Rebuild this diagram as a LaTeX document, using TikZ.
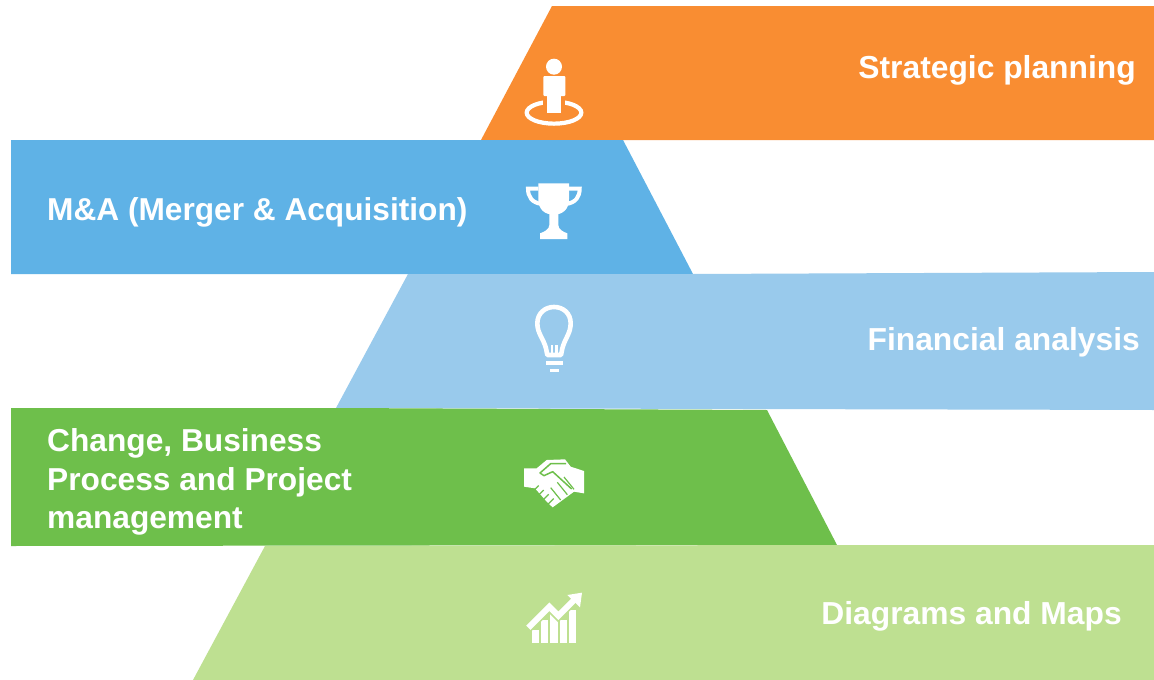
\documentclass[tikz,border=0pt]{standalone}
\usepackage{fontspec}
\setmainfont{Liberation Sans}
\definecolor{cOrange}{HTML}{F98D32}
\definecolor{cBlue}{HTML}{5FB2E6}
\definecolor{cPale}{HTML}{99CAEC}
\definecolor{cGreen}{HTML}{6EBF4B}
\definecolor{cLime}{HTML}{BEE091}
\tikzset{
  lbl/.style={text=white,font=\fontsize{31.7}{38}\selectfont\bfseries,inner sep=0pt,anchor=base west},
  lbr/.style={text=white,font=\fontsize{31.8}{38}\selectfont\bfseries,inner sep=0pt,anchor=base east},
  ico/.style={x=0.33333pt,y=-0.33333pt},
}
\begin{document}
\begin{tikzpicture}[x=1pt,y=-1pt]
\useasboundingbox (0,0) rectangle (1154,680);
\fill[white] (0,0) rectangle (1154,680);
% bands
\fill[cOrange] (552,6) -- (1154,6) -- (1154,140) -- (481,140) -- cycle;
\fill[cBlue] (11,140) -- (623,140) -- (693,274) -- (11,274) -- cycle;
\fill[cPale] (408,274) -- (693,274) -- (1154,272) -- (1154,410) -- (336,408) -- cycle;
\fill[cGreen] (11,408) -- (336,408) -- (767,410) -- (837,545) -- (11,546) -- cycle;
\fill[cLime] (265,546) -- (837,545) -- (1154,545) -- (1154,680) -- (193,680) -- cycle;
% labels
\node[lbr] (t1) at (1136,78) {Strategic planning};
\node[lbl,font=\fontsize{31.65}{38}\selectfont\bfseries] (t2) at (47,220) {M\&A (Merger \& Acquisition)};
\node[lbr] (t3) at (1140,350) {Financial analysis};
\node[lbl] (t4a) at (47,451) {Change, Business};
\node[lbl] (t4b) at (47,490) {Process and Project};
\node[lbl] (t4c) at (47,528) {management};
\node[lbr] (t5) at (1122,624) {Diagrams and Maps};
% person
\begin{scope}[shift={(500,40)},ico]
\draw[white,line width=4.2pt] (162,218) ellipse [x radius=82,y radius=33];
\fill[cOrange] (130,170) rectangle (196,230);
\fill[white] (162,80) circle (24);
\fill[white,rounded corners=1pt] (130,108) rectangle (196,168);
\fill[white] (142,160) rectangle (184,219);
\end{scope}
% trophy
\begin{scope}[shift={(500,170)},ico]
\draw[white,line width=4pt] (115,56) -- (84,56) .. controls (84,80) and (95,98) .. (125,102);
\draw[white,line width=4pt] (207,56) -- (239,56) .. controls (239,80) and (228,98) .. (198,102);
\fill[white] (115,40) -- (207,40) -- (207,88) .. controls (207,118) and (188,134) .. (161,134) .. controls (134,134) and (115,118) .. (115,88) -- cycle;
\fill[white] (148,130) -- (175,130) -- (175,165) .. controls (175,178) and (190,186) .. (202,190) -- (202,207) -- (120,207) -- (120,190) .. controls (132,186) and (148,178) .. (148,165) -- cycle;
\end{scope}
% bulb
\begin{scope}[shift={(510,295)},ico]
\draw[white,line width=4.6pt,line join=round] (112,180) -- (108,160) .. controls (100,130) and (82,115) .. (82,85) .. controls (82,55) and (105,36) .. (132,36) .. controls (160,36) and (182,55) .. (182,85) .. controls (182,115) and (165,130) .. (157,160) -- (153,180) -- cycle;
\fill[white] (122,150) rectangle (130,180);
\fill[white] (136,150) rectangle (144,180);
\fill[white] (108,197) rectangle (160,210);
\fill[white] (120,222) rectangle (147,232);
\end{scope}
% handshake
\begin{scope}[shift={(510,445)},ico]
\fill[white] (42,70) -- (80,70) -- (110,45) -- (165,43) -- (182,65) -- (222,78) -- (222,145) -- (192,140) -- (128,187) -- (112,172) -- (75,130) -- (42,125) -- cycle;
\draw[cGreen,line width=1.5pt,line join=round] (168,56) -- (122,56) -- (90,84) -- (102,92) -- (128,80) -- (185,132);
\foreach \a in {0,1,2}{
  \draw[cGreen,line width=1.2pt] ({122+\a*20},{128-\a*16}) -- ({152+\a*20},{165-\a*16});
}
\foreach \a in {0,1,2,3}{
  \draw[cGreen,line width=1.2pt] ({70+\a*15},{138+\a*13}) -- ({86+\a*15},{122+\a*13});
}
\end{scope}
% chart
\begin{scope}[shift={(510,580)},ico]
\fill[white] (65,150) rectangle (87,190);
\fill[white] (93,120) rectangle (115,190);
\fill[white] (121,100) rectangle (143,190);
\fill[white] (149,120) rectangle (171,190);
\fill[white] (177,90) rectangle (199,190);
\draw[cLime,line width=9.5pt,line join=miter] (48,150) -- (118,80) -- (145,107) -- (192,60);
\draw[white,line width=6pt,line join=miter] (55,143) -- (118,80) -- (145,107) -- (192,60);
\fill[white] (172,45) -- (216,38) -- (210,82) -- cycle;
\end{scope}
\end{tikzpicture}
\end{document}
